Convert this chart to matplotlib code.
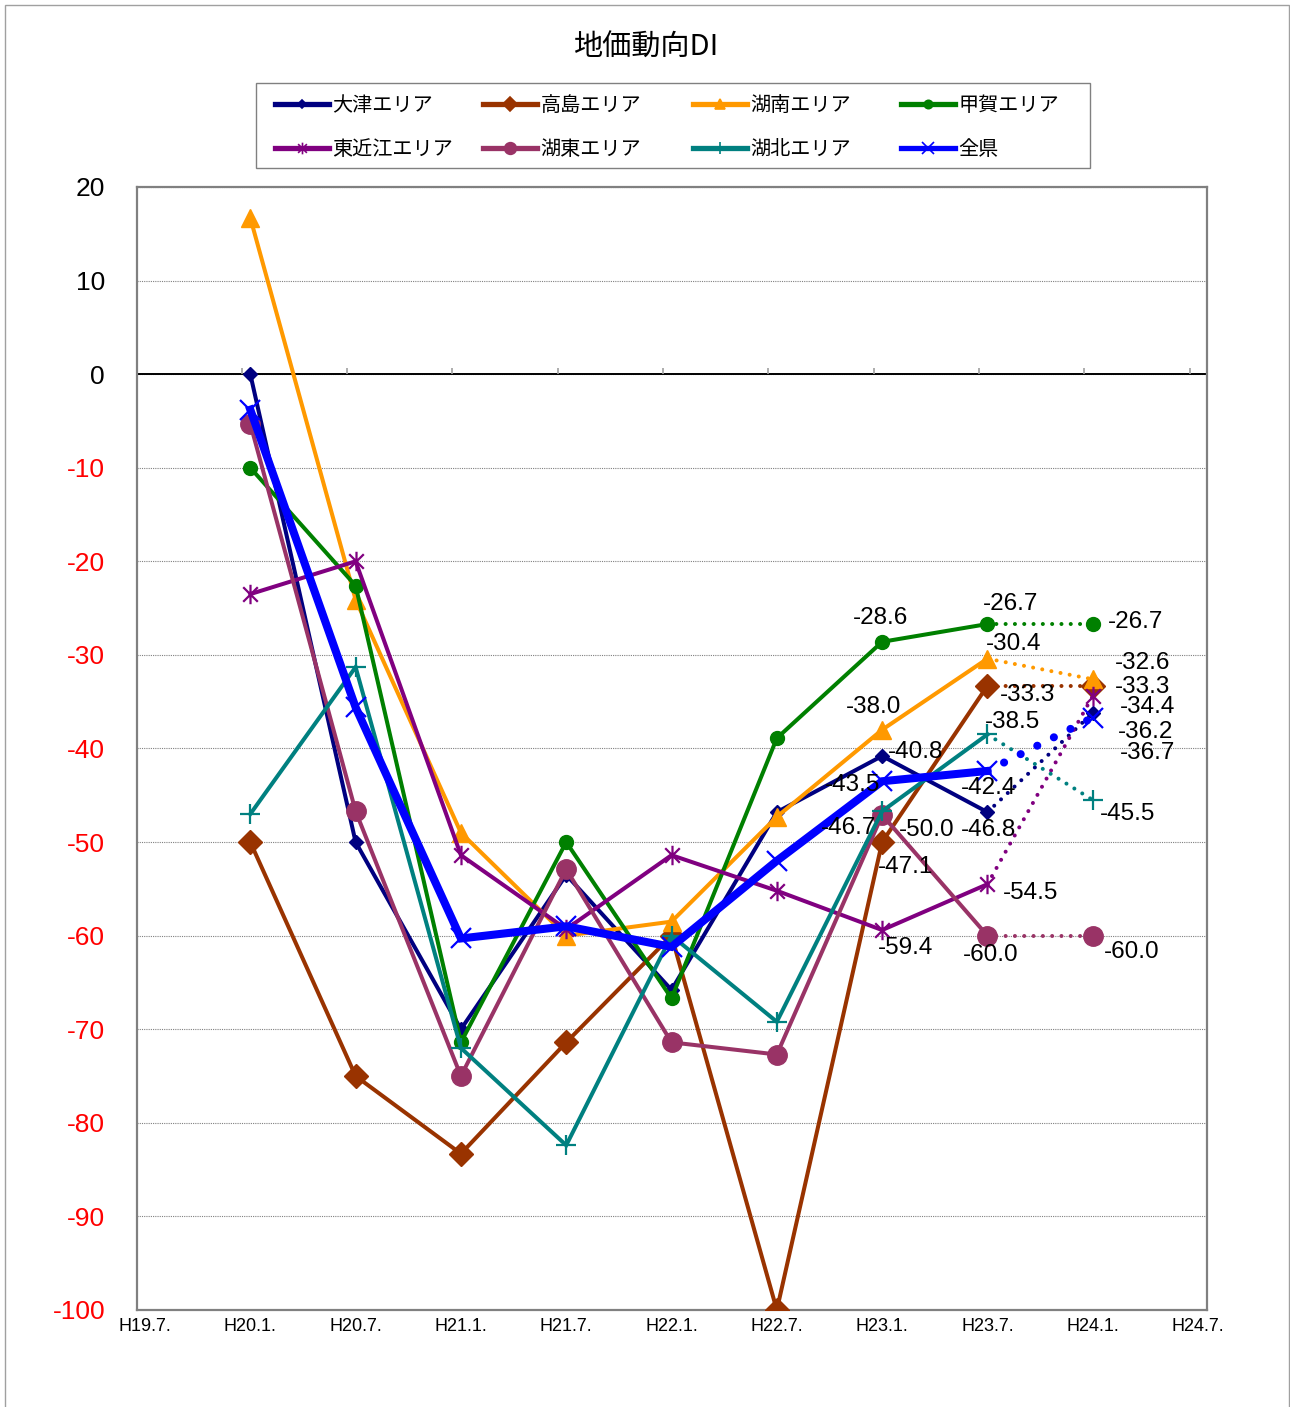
import numpy as np
import matplotlib
matplotlib.use('Agg')
import matplotlib.pyplot as plt
from matplotlib.lines import Line2D
from matplotlib.patches import Rectangle
from matplotlib.path import Path

plt.rcParams['font.family'] = ['Liberation Sans', 'Noto Sans CJK JP', 'DejaVu Sans']
plt.rcParams['axes.unicode_minus'] = False

# ---- data ----
periods = ['H19.7.', 'H20.1.', 'H20.7.', 'H21.1.', 'H21.7.', 'H22.1.',
           'H22.7.', 'H23.1.', 'H23.7.', 'H24.1.', 'H24.7.']
# values for H20.1. .. H24.1.
otsu       = [0.0, -50.0, -70.0, -53.5, -65.8, -46.8, -40.8, -46.8, -36.2]
takashima  = [-50.0, -75.0, -83.3, -71.4, -60.0, -100.0, -50.0, -33.3, -33.3]
konan      = [16.7, -24.1, -49.0, -60.0, -58.5, -47.3, -38.0, -30.4, -32.6]
koka       = [-10.0, -22.6, -71.4, -50.0, -66.7, -38.9, -28.6, -26.7, -26.7]
higashiomi = [-23.5, -20.0, -51.4, -59.3, -51.4, -55.2, -59.4, -54.5, -34.4]
koto       = [-5.3, -46.7, -75.0, -52.9, -71.4, -72.7, -47.1, -60.0, -60.0]
kohoku     = [-47.0, -31.3, -72.0, -82.4, -60.0, -69.2, -46.7, -38.5, -45.5]
zenken     = [-3.8, -35.6, -60.3, -59.0, -61.2, -52.0, -43.5, -42.4, -36.7]

names = ['大津エリア', '高島エリア', '湖南エリア', '甲賀エリア',
         '東近江エリア', '湖東エリア', '湖北エリア', '全県']
series = [otsu, takashima, konan, koka, higashiomi, koto, kohoku, zenken]

# ---- styles ----
star = Path([(0, -1), (0, 1), (-0.75, -0.75), (0.75, 0.75), (-0.75, 0.75), (0.75, -0.75)],
            [Path.MOVETO, Path.LINETO] * 3)
colors = ['#000080', '#993300', '#FF9900', '#008000', '#800080', '#993366', '#008080', '#0000FF']
markers = ['D', 'D', '^', 'o', star, 'o', '+', 'x']
msizes = [7.5, 12, 13, 10, 14, 14, 14, 14]
lws = [2.9, 2.9, 2.9, 2.9, 2.9, 2.9, 2.9, 5.8]

# label offsets (pixels) for last three points: H23.1, H23.7, H24.1
label_off = [
    [(33, 4), (1, -18), (53, -19)],
    [(45, 12), (40, -9), (50, -1)],
    [(-9, 23), (26, 15), (50, 16)],
    [(-2, 24), (23, 20), (43, 2)],
    [(23, -18), (43, -9), (55, -11)],
    [(23, -52), (3, -19), (39, -16)],
    [(-34, -17), (25, 12), (35, -14)],
    [(-30, -4), (1, -17), (55, -35)],
]

W, H = 1290, 1407
fig = plt.figure(figsize=(W / 100, H / 100), dpi=100)
ax = fig.add_axes([137 / W, 1 - 1310 / H, (1207 - 137) / W, (1310 - 187) / H])

x = np.arange(1, 10)
for i, (vals, c) in enumerate(zip(series, colors)):
    vals = np.array(vals)
    z = 3 + i
    ax.plot(x[:8], vals[:8], color=c, lw=lws[i], solid_joinstyle='miter', zorder=z)
    ax.plot(x[7:9], vals[7:9], color=c, lw=lws[i], linestyle=(0, (0.01, 2.3)),
            dash_capstyle='round', zorder=z)
    filled = markers[i] in ('D', '^', 'o')
    ax.plot(x, vals, linestyle='none', marker=markers[i], ms=msizes[i],
            color=c, mfc=c if filled else 'none', mec=c,
            mew=1.0 if filled else 1.6, zorder=z)
    for k, (dx, dy) in zip(range(6, 9), label_off[i]):
        ax.annotate('%.1f' % vals[k], (x[k], vals[k]), xytext=(dx, dy),
                    textcoords='offset pixels', ha='center', va='center',
                    fontsize=17.5, color='black', zorder=20)

ax.set_xlim(-0.076, 10.085)
ax.set_ylim(-100, 20)
ax.set_xticks(np.arange(11))
ax.set_xticklabels(periods, fontsize=13)
ax.set_yticks(np.arange(-100, 21, 10))
ax.set_yticklabels([str(v) for v in range(-100, 21, 10)], fontsize=19)
for t, v in zip(ax.get_yticklabels(), range(-100, 21, 10)):
    t.set_color('black' if v >= 0 else '#FF0000')
ax.tick_params(axis='y', length=0, pad=23)
ax.tick_params(axis='x', length=0, pad=6)
ax.yaxis.grid(True, color='#808080', linestyle=(0, (1, 1)), lw=0.8)
ax.set_axisbelow(True)
ax.axhline(0, color='black', lw=1.4, zorder=2)
ax.vlines(np.arange(11) - 0.08, 0, 0.65, color='#a0a0a0', lw=1.2, zorder=2)
for s in ax.spines.values():
    s.set_color('#808080')
    s.set_linewidth(1.6)

fig.text(646 / W, 1 - 48 / H, '地価動向DI', ha='center', va='center',
         fontsize=21, family=['Noto Sans CJK JP'])

# legend: four columns with equal spacing
handles = []
for i in range(8):
    filled = markers[i] in ('D', '^', 'o')
    handles.append(Line2D([], [], color=colors[i], lw=3.8, marker=markers[i],
                          ms=msizes[i] * 0.6, mfc=colors[i] if filled else 'none',
                          mec=colors[i], mew=1.2))
col_x = [275, 483, 693, 901]
cols = [(0, 4), (1, 5), (2, 6), (3, 7)]
for cx, (a, b) in zip(col_x, cols):
    fig.legend([handles[a], handles[b]], [names[a], names[b]], loc='upper left',
               bbox_to_anchor=(cx / W, 1 - 95 / H), frameon=False, borderpad=0,
               borderaxespad=0, handlelength=2.7, handletextpad=0.15,
               labelspacing=1.15, prop={'family': 'Noto Sans CJK JP', 'size': 14.5})
fig.patches.append(Rectangle((256 / W, 1 - 168 / H), (1090 - 256) / W, (168 - 83) / H,
                             transform=fig.transFigure, fill=False,
                             edgecolor='#808080', lw=1))
fig.patches.append(Rectangle((5 / W, -0.01), (1289 - 5) / W, 1.01 - 5 / H,
                             transform=fig.transFigure, fill=False,
                             edgecolor='#a0a0a0', lw=1))

fig.savefig('out.png', dpi=100)
